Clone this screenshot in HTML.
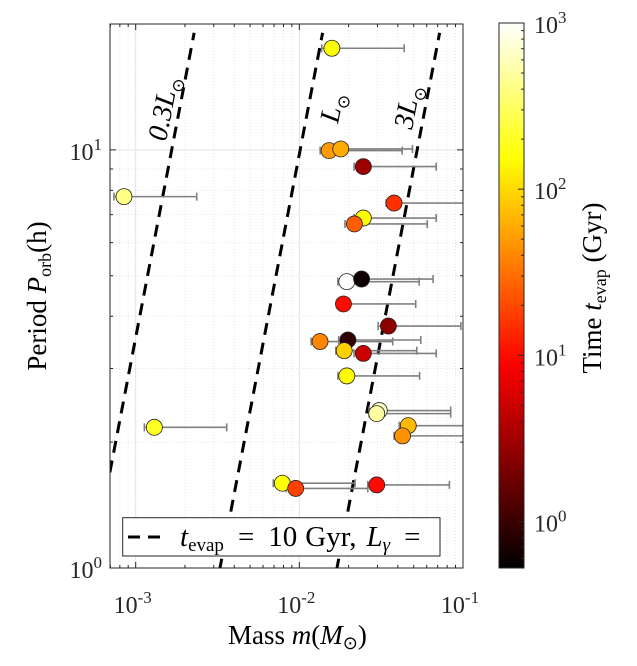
<!DOCTYPE html>
<html><head><meta charset="utf-8">
<style>
html,body{margin:0;padding:0;background:#fff;}
svg{display:block;font-family:"Liberation Serif",serif;}
</style></head>
<body>
<svg id="chart" width="637" height="666" viewBox="0 0 637 666" xmlns="http://www.w3.org/2000/svg">
<defs><linearGradient id="hotgrad" x1="0" y1="1" x2="0" y2="0"></linearGradient>
<clipPath id="plotclip"><rect x="110" y="24" width="353" height="544"/></clipPath></defs>
<g id="grid"></g>
<g id="lines" clip-path="url(#plotclip)"></g>
<g id="errs" clip-path="url(#plotclip)"></g>
<g id="pts"></g>
<rect x="110" y="24" width="353" height="544" fill="none" stroke="#262626" stroke-width="1"/>
<g id="ticks"></g>
<text transform="translate(166,142) rotate(-79)" font-size="28" font-style="italic">0.3L<tspan font-style="normal" font-size="17" dy="7">⊙</tspan></text>
<text transform="translate(338,124) rotate(-79)" font-size="28" font-style="italic">L<tspan font-style="normal" font-size="17" dy="7">⊙</tspan></text>
<text transform="translate(412,130) rotate(-79)" font-size="28" font-style="italic">3L<tspan font-style="normal" font-size="17" dy="7">⊙</tspan></text>
<g>
<rect x="122.7" y="517.7" width="317.3" height="38.3" fill="#fff" stroke="#262626" stroke-width="1"/>
<line x1="128" y1="537" x2="167" y2="537" stroke="#000" stroke-width="3" stroke-dasharray="12,8"/>
<text x="180" y="546" font-size="29"><tspan font-style="italic">t</tspan><tspan font-size="19" dy="5">evap</tspan><tspan dy="-5" dx="14">=</tspan><tspan dx="14">10</tspan><tspan dx="8">Gyr,</tspan><tspan dx="10" font-style="italic">L</tspan><tspan font-size="19" font-style="italic" dy="5">γ</tspan><tspan dy="-5" dx="14">=</tspan></text>
</g>
<text x="228" y="644" font-size="27">Mass <tspan font-style="italic">m</tspan>(<tspan font-style="italic">M</tspan><tspan font-size="18" dy="5">⊙</tspan><tspan dy="-5">)</tspan></text>
<text transform="translate(46,296) rotate(-90)" font-size="27" text-anchor="middle">Period <tspan font-style="italic">P</tspan><tspan font-size="18" dy="5">orb</tspan><tspan dy="-5">(h)</tspan></text>
<rect x="499" y="23" width="25" height="545" fill="url(#hotgrad)" stroke="#262626" stroke-width="1"/>
<g id="cbticks"></g>
<text transform="translate(601,288) rotate(-90)" font-size="27" text-anchor="middle">Time <tspan font-style="italic">t</tspan><tspan font-size="18" dy="5">evap</tspan><tspan dy="-5"> (Gyr)</tspan></text>
</svg>
<script>
const massVals=[0.0158,0.0152,0.0179,0.0246,0.000848,0.0379,0.0246,0.0217,0.0195,0.0240,0.0186,0.0350,0.01338,0.0198,0.0188,0.0246,0.0195,0.0308,0.0297,0.0013,0.0463,0.0427,0.00787,0.0095,0.0297];
const massLo=[0.0137,0.0134,0.0157,0.0216,0.000737,0.0339,0.0216,0.0190,0.0172,0.0211,0.0169,0.0303,0.0118,0.0174,0.0167,0.0216,0.0172,0.0267,0.0267,0.00113,0.0408,0.0379,0.00693,0.0083,0.0262];
const massHi=[0.0437,0.0425,0.0491,0.0686,0.00236,0.15,0.0686,0.0605,0.0540,0.0656,0.0514,0.0971,0.0372,0.0552,0.0522,0.0686,0.0543,0.0841,0.0841,0.0036,0.15,0.15,0.0219,0.0262,0.0826];
const periodVals=[17.5,9.96,10.05,9.12,7.73,7.46,6.87,6.65,4.84,4.91,4.28,3.79,3.48,3.51,3.31,3.26,2.88,2.38,2.34,2.17,2.19,2.07,1.595,1.55,1.58];
const tevapVals=[150,50,60,3,400,15,150,25,1000,0.6,10,2.5,40,0.9,90,5,150,700,500,200,70,45,160,18,10];
const lineLum=["0.3","1","3"];
const lineIntercept=[-3.27,-2.485,-1.77];
const lineSlope=0.49;
const xTicks=[0.001,0.01,0.1];
const xTickLabels=["-3","-2","-1"];
const yTicks=[1,10];
const yTickLabels=["0","1"];
const cbTicks=[1,10,100,1000];
const cbTickLabels=["0","1","2","3"];

const NS="http://www.w3.org/2000/svg";
const L=110,R=463,T=24,B=568;
const xlo=-3.157,xhi=-1,ylo=0,yhi=Math.log10(20);
const X=m=>L+(Math.log10(m)-xlo)/(xhi-xlo)*(R-L);
const Y=p=>B-(Math.log10(p)-ylo)/(yhi-ylo)*(B-T);
const cT=23,cB=568,clo=-0.28,chi=3;
const CY=t=>cB-(Math.log10(t)-clo)/(chi-clo)*(cB-cT);
function hot(f){f=Math.max(0,Math.min(1,f));
 const r=Math.min(1,f/0.375),g=Math.max(0,Math.min(1,(f-0.375)/0.375)),b=Math.max(0,Math.min(1,(f-0.75)/0.25));
 return `rgb(${Math.round(r*255)},${Math.round(g*255)},${Math.round(b*255)})`;}
function mk(tag,at,parent){const e=document.createElementNS(NS,tag);for(const k in at)e.setAttribute(k,at[k]);parent.appendChild(e);return e;}
const grid=document.getElementById('grid'),ticks=document.getElementById('ticks');
for(let d=-4;d<=-1;d++){for(let k=1;k<10;k++){const m=k*Math.pow(10,d);const x=X(m);if(x<L-0.5||x>R+0.5)continue;
 const major=k===1;
 const gl=mk('line',{x1:x,x2:x,y1:T,y2:B,stroke:major?'#e3e3e3':'#e6e6e6','stroke-width':1,'stroke-dasharray':major?'none':'1,2'},grid);
 
 
 const len=major?6:3;
 const t1=mk('line',{x1:x,x2:x,y1:B,y2:B-len,stroke:'#262626'},ticks);
 
 
 const t2=mk('line',{x1:x,x2:x,y1:T,y2:T+len,stroke:'#262626'},ticks);
 
 }}
xTicks.forEach((v,i)=>{const t=mk('text',{x:X(v)-3,y:B+45,'font-size':24,'text-anchor':'middle',fill:'#262626'},ticks);
 
 
 t.innerHTML=`10<tspan font-size="17" dy="-10">${xTickLabels[i]}</tspan>`;});
for(let d=0;d<=1;d++){for(let k=1;k<10;k++){const p=k*Math.pow(10,d);const y=Y(p);if(y<T-0.5||y>B+0.5)continue;
 const major=k===1;
 const gl=mk('line',{x1:L,x2:R,y1:y,y2:y,stroke:major?'#e3e3e3':'#e6e6e6','stroke-width':1,'stroke-dasharray':major?'none':'1,2'},grid);
 
 
 const len=major?6:3;
 const t1=mk('line',{x1:L,x2:L+len,y1:y,y2:y,stroke:'#262626'},ticks);
 
 
 const t2=mk('line',{x1:R,x2:R-len,y1:y,y2:y,stroke:'#262626'},ticks);
 
 }}
yTicks.forEach((v,i)=>{const t=mk('text',{x:L-8,y:Y(v)+10,'font-size':24,'text-anchor':'end',fill:'#262626'},ticks);
 
 
 t.innerHTML=`10<tspan font-size="17" dy="-10">${yTickLabels[i]}</tspan>`;});
const lines=document.getElementById('lines');
lineIntercept.forEach((a,i)=>{const p2=Math.pow(10,1.28);
 const pb=Math.pow(10,-0.1);
 const l=mk('line',{x1:X(Math.pow(10,a+lineSlope*Math.log10(pb))),y1:Y(pb),x2:X(Math.pow(10,a+lineSlope*Math.log10(p2))),y2:Y(p2),stroke:'#000','stroke-width':3,'stroke-dasharray':'12,8'},lines);
 
 });
const errs=document.getElementById('errs'),pts=document.getElementById('pts');
massVals.forEach((m,i)=>{const y=Y(periodVals[i]);const x1=X(massLo[i]),x2=X(massHi[i]);
 const e=mk('path',{d:`M${x1},${y}H${x2}M${x1},${y-4}V${y+4}M${x2},${y-4}V${y+4}`,stroke:'#808080','stroke-width':1.6,fill:'none'},errs);
 
 });
massVals.forEach((m,i)=>{const f=(Math.log10(tevapVals[i])-clo)/(chi-clo);
 const c=mk('circle',{cx:X(m),cy:Y(periodVals[i]),r:8,fill:hot(f),stroke:'#222','stroke-width':0.8},pts);
 
 });
const grad=document.getElementById('hotgrad');
for(let s=0;s<=40;s++){const f=s/40;mk('stop',{offset:f,'stop-color':hot(f)},grad);}
const cbt=document.getElementById('cbticks');
for(let d=-1;d<=3;d++){for(let k=1;k<10;k++){const t=k*Math.pow(10,d);if(t>1000.1)continue;const y=CY(t);if(y<cT-0.5||y>cB+0.5)continue;
 const tk=mk('line',{x1:524,x2:k===1?518:521,y1:y,y2:y,stroke:'#262626'},cbt);
 
 }}
cbTicks.forEach((v,i)=>{const t=mk('text',{x:534,y:CY(v)+10,'font-size':24,fill:'#262626'},cbt);
 
 
 t.innerHTML=`10<tspan font-size="17" dy="-10">${cbTickLabels[i]}</tspan>`;});
</script>
</body></html>
